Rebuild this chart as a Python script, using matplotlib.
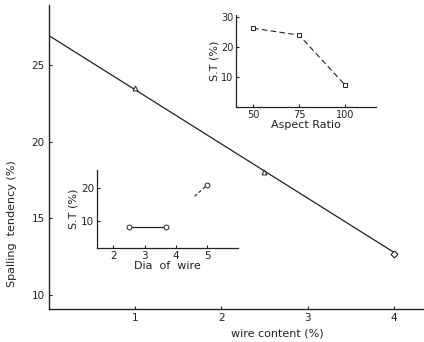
import matplotlib.pyplot as plt

# main curve: spalling tendency vs wire content (fitted straight line + points)
fit_x = [0, 4]
fit_y = [26.9, 12.8]
marker_x = [1, 2.5]
marker_y = [23.5, 18.0]
end_x = [4]
end_y = [12.7]

# inset: aspect ratio
aspect = [50, 75, 100]
aspect_st = [26.3, 24.0, 7.3]

# inset: diameter of wire
dia = [2.5, 3.7]
dia_st = [8.2, 8.2]
dia_tail_x = [4.6, 5.0]
dia_tail_y = [17.5, 20.9]

INK = '#222222'
plt.rcParams['font.family'] = 'DejaVu Sans'

fig = plt.figure(figsize=(4.24, 3.42), dpi=100)
fig.patch.set_facecolor('white')

# ── main axes ────────────────────────────────────────────
ax = fig.add_axes([0.1156, 0.0965, 0.884, 0.889])
ax.plot(fit_x, fit_y, color=INK, lw=0.9)
ax.plot(marker_x, marker_y, ls='none', marker='^', ms=3.5, mfc='white', mec=INK, mew=0.7)
ax.plot(end_x, end_y, ls='none', marker='D', ms=3.5, mfc='white', mec=INK, mew=0.8)
ax.set_xlim(0, 4.35)
ax.set_ylim(9.1, 28.9)
ax.set_xticks([1, 2, 3, 4])
ax.set_yticks([10, 15, 20, 25])
for s in ['top', 'right']:
    ax.spines[s].set_visible(False)
for s in ['left', 'bottom']:
    ax.spines[s].set_color(INK)
    ax.spines[s].set_linewidth(1.0)
ax.tick_params(direction='in', length=2, labelsize=7.5, colors=INK, pad=3)
ax.set_xlabel('wire content (%)', fontsize=8, color=INK)
ax.xaxis.set_label_coords(0.61, -0.065)
ax.set_ylabel('Spalling  tendency (%)', fontsize=8, color=INK)
ax.yaxis.set_label_coords(-0.085, 0.28)

# ── inset: aspect ratio ──────────────────────────────────
ax1 = fig.add_axes([0.557, 0.687, 0.330, 0.269])
ax1.plot(aspect, aspect_st, color=INK, lw=0.8, ls=(0, (5, 3)),
         marker='s', ms=3.5, mfc='white', mec=INK, mew=0.7)
ax1.set_xlim(40.8, 116.8)
ax1.set_ylim(0, 30.7)
ax1.set_xticks([50, 75, 100])
ax1.set_yticks([10, 20, 30])
for s in ['top', 'right']:
    ax1.spines[s].set_visible(False)
for s in ['left', 'bottom']:
    ax1.spines[s].set_color(INK)
    ax1.spines[s].set_linewidth(0.9)
ax1.tick_params(direction='in', length=2, labelsize=7, colors=INK, pad=2)
ax1.set_xlabel('Aspect Ratio', fontsize=8, color=INK, labelpad=0)
ax1.set_ylabel('S.T (%)', fontsize=8, color=INK, labelpad=1)
ax1.patch.set_alpha(0)

# ── inset: diameter of wire ──────────────────────────────
ax2 = fig.add_axes([0.229, 0.275, 0.333, 0.228])
ax2.plot(dia, dia_st, color=INK, lw=0.9, marker='o', ms=3.5, mfc='white', mec=INK, mew=0.7)
ax2.plot(dia_tail_x, dia_tail_y, color=INK, lw=0.8, ls=(0, (3, 2)))
ax2.plot(dia_tail_x[-1:], dia_tail_y[-1:], ls='none', marker='o', ms=3.5, mfc='white', mec=INK, mew=0.7)
ax2.set_xlim(1.48, 6.0)
ax2.set_ylim(1.8, 25.5)
ax2.set_xticks([2, 3, 4, 5])
ax2.set_yticks([10, 20])
for s in ['top', 'right']:
    ax2.spines[s].set_visible(False)
for s in ['left', 'bottom']:
    ax2.spines[s].set_color(INK)
    ax2.spines[s].set_linewidth(0.9)
ax2.tick_params(direction='in', length=2, labelsize=7.5, colors=INK, pad=2)
ax2.set_xlabel('Dia  of  wire', fontsize=8, color=INK, labelpad=0)
ax2.set_ylabel('S.T (%)', fontsize=8, color=INK, labelpad=2)
ax2.patch.set_alpha(0)

fig.savefig('out.png', dpi=100, facecolor='white')
plt.close(fig)
